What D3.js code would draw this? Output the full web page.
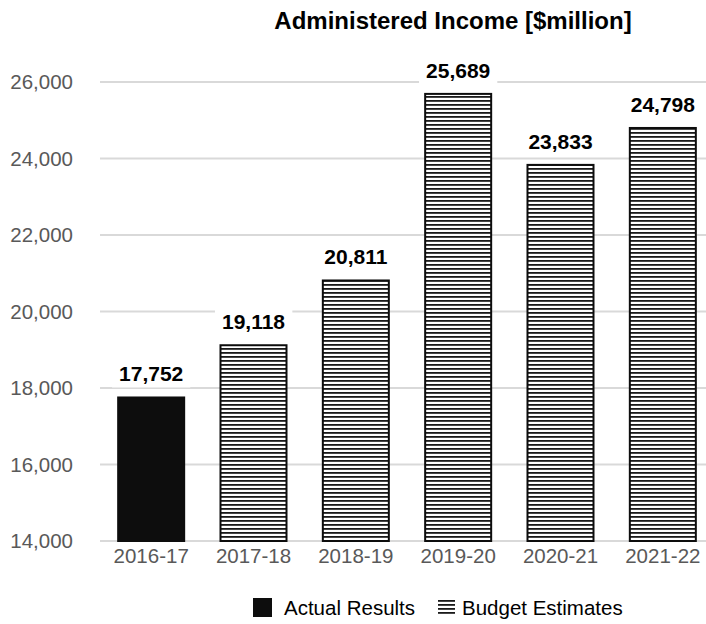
<!DOCTYPE html>
<html><head><meta charset="utf-8">
<script src="https://cdn.jsdelivr.net/npm/d3@7"></script>
<style>
body{margin:0;background:#fff;}
svg{display:block;font-family:Arial,"Liberation Sans",sans-serif;}
</style></head>
<body><svg id="c" width="706" height="624"></svg>
<script>
const categories = ["2016-17","2017-18","2018-19","2019-20","2020-21","2021-22"];
const values = [17752,19118,20811,25689,23833,24798];
const seriesType = ["Actual Results","Budget Estimates","Budget Estimates","Budget Estimates","Budget Estimates","Budget Estimates"];
const yTicks = [14000,16000,18000,20000,22000,24000,26000];
const title = "Administered Income [$million]";
const legendItems = ["Actual Results","Budget Estimates"];

const svg = d3.select("#c");
const defs = svg.append("defs");
const pat = defs.append("pattern").attr("id","stripes").attr("patternUnits","userSpaceOnUse")
  .attr("width",8).attr("height",4);
pat.append("rect").attr("width",8).attr("height",4).attr("fill","#fff");
pat.append("rect").attr("y",0).attr("width",8).attr("height",1.8).attr("fill","#1a1a1a");

const x = d3.scaleBand().domain(categories).range([100,714]).paddingInner(0.355).paddingOuter(0.1775);
const y = d3.scaleLinear().domain([14000,26000]).range([541,82]);

// gridlines
svg.append("g").selectAll("line").data(yTicks).join("line")
  .attr("x1",100).attr("x2",706).attr("y1",d=>y(d)).attr("y2",d=>y(d))
  .attr("stroke","#d9d9d9").attr("stroke-width",2);

// y tick labels
svg.append("g").selectAll("text").data(yTicks).join("text")
  .attr("x",73).attr("y",d=>y(d)+7).attr("text-anchor","end")
  .attr("font-size",20.5).attr("fill","#595959").text(d3.format(","));

// x tick labels
svg.append("g").selectAll("text").data(categories).join("text")
  .attr("x",d=>x(d)+x.bandwidth()/2).attr("y",563).attr("text-anchor","middle")
  .attr("font-size",20.5).attr("fill","#595959").text(d=>d);

// bars
svg.append("g").selectAll("rect").data(categories).join("rect")
  .attr("x",d=>x(d)).attr("width",x.bandwidth())
  .attr("y",(d,i)=>y(values[i])).attr("height",(d,i)=>y(14000)-y(values[i]))
  .attr("fill",(d,i)=>seriesType[i]==="Actual Results"?"#0d0d0d":"url(#stripes)")
  .attr("stroke","#0d0d0d").attr("stroke-width",2);

// value labels with white bg
const lg = svg.append("g");
categories.forEach((c,i)=>{
  const g = lg.append("g");
  const t = g.append("text").attr("x",x(c)+x.bandwidth()/2).attr("y",y(values[i])-16)
    .attr("text-anchor","middle").attr("font-size",21).attr("font-weight","bold").attr("fill","#000")
    .text(d3.format(",")(values[i]));
  const b = t.node().getBBox();
  g.insert("rect","text").attr("x",b.x-7).attr("y",b.y-2).attr("width",b.width+14).attr("height",b.height+4).attr("fill","#fff");
});

// title
svg.append("text").attr("x",453).attr("y",29).attr("text-anchor","middle")
  .attr("font-size",24).attr("font-weight","bold").attr("fill","#000").text(title);

// legend
const leg = svg.append("g");
leg.append("rect").attr("x",253).attr("y",598).attr("width",19).attr("height",19).attr("fill","#0d0d0d");
leg.append("text").attr("x",284).attr("y",615).attr("font-size",20.5).attr("fill","#000").text(legendItems[0]);
leg.append("rect").attr("x",438).attr("y",599).attr("width",17).attr("height",17).attr("fill","url(#stripes)");
leg.append("text").attr("x",462).attr("y",615).attr("font-size",20.5).attr("fill","#000").text(legendItems[1]);
</script></body></html>
